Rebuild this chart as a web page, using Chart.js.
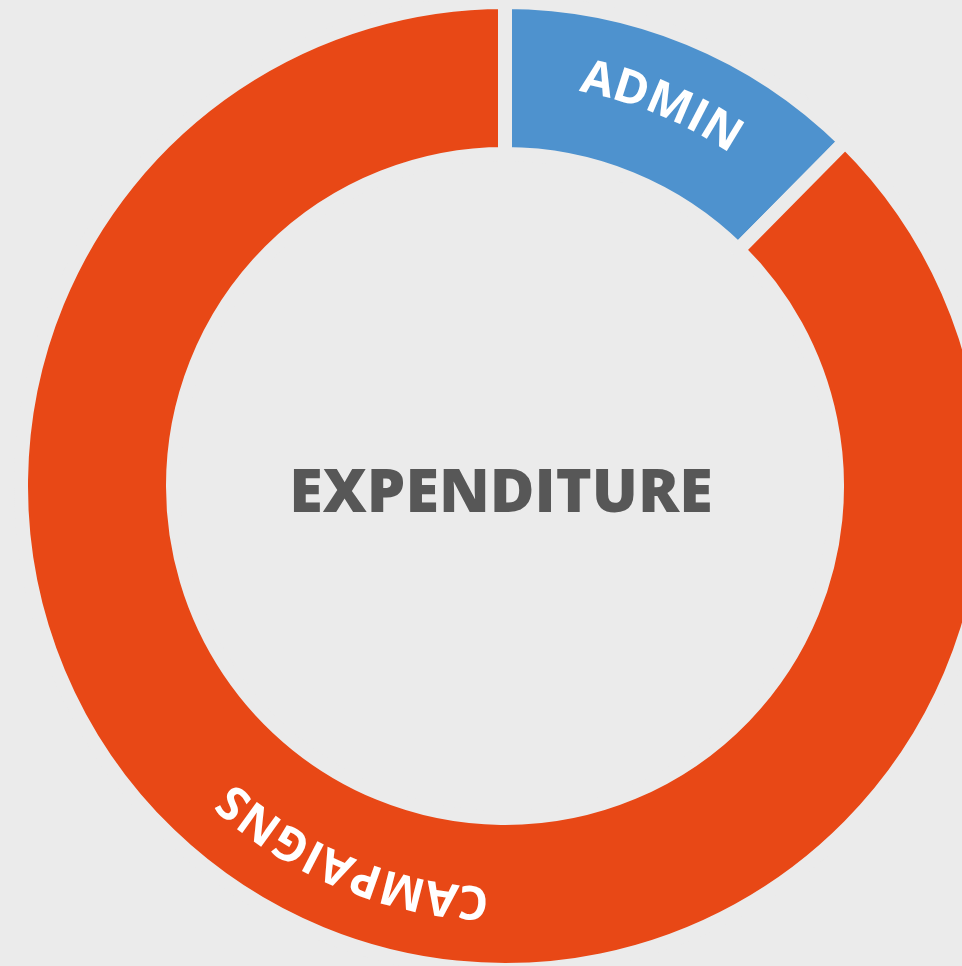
<!DOCTYPE html>
<html>
<head>
<meta charset="utf-8">
<script src="https://cdn.jsdelivr.net/npm/chart.js@4.4.1/dist/chart.umd.min.js"></script>
<style>
  html, body { margin: 0; padding: 0; background: #ebebeb; overflow: hidden; }
  #wrap { position: absolute; left: 0; top: 0; width: 1010px; height: 972px; }
</style>
</head>
<body>
<div id="wrap"><canvas id="donut" width="1010" height="972"></canvas></div>
<script>
const labels = ['ADMIN', 'CAMPAIGNS'];
const values = [12.4, 87.6];
const colors = ['#4e92ce', '#e84816'];
const centerTitle = 'EXPENDITURE';
const bgColor = '#ebebeb';

// writes each slice's label along its arc, tops facing outward
const arcLabels = {
    id: 'arcLabels',
    afterDatasetsDraw(chart) {
        const ctx = chart.ctx;
        const meta = chart.getDatasetMeta(0);
        ctx.save();
        ctx.fillStyle = '#ffffff';
        ctx.font = 'bold 47px "Open Sans"';
        ctx.textAlign = 'center';
        ctx.textBaseline = 'middle';
        const gap = 1;
        meta.data.forEach((arc, i) => {
            const text = labels[i];
            const r = (arc.innerRadius + arc.outerRadius) / 2 + 7;
            const mid = (arc.startAngle + arc.endAngle) / 2;
            const widths = [...text].map(ch => ctx.measureText(ch).width);
            const total = widths.reduce((a, b) => a + b, 0) + gap * (widths.length - 1);
            let pos = -total / 2;
            [...text].forEach((ch, k) => {
                const a = mid + (pos + widths[k] / 2) / r;
                ctx.save();
                ctx.translate(arc.x + r * Math.cos(a), arc.y + r * Math.sin(a));
                ctx.rotate(a + Math.PI / 2);
                ctx.fillText(ch, 0, 0);
                ctx.restore();
                pos += widths[k] + gap;
            });
        });
        const c = meta.data[0];
        ctx.fillStyle = '#575757';
        ctx.font = '800 61px "Open Sans"';
        ctx.fillText(centerTitle, c.x - 4, c.y + 9);
        ctx.restore();
    }
};

const chart = new Chart(document.getElementById('donut').getContext('2d'), {
    type: 'doughnut',
    data: {
        labels: labels,
        datasets: [{
            data: values,
            backgroundColor: colors,
            borderColor: bgColor,
            borderWidth: 14,
            borderJoinStyle: 'miter',
            hoverOffset: 0,
        }],
    },
    options: {
        responsive: false,
        animation: false,
        radius: 484,
        cutout: '68.6%',
        layout: { padding: 0 },
        plugins: {
            legend: { display: false },
            tooltip: { enabled: false },
        },
    },
    plugins: [arcLabels],
});
</script>
</body>
</html>
